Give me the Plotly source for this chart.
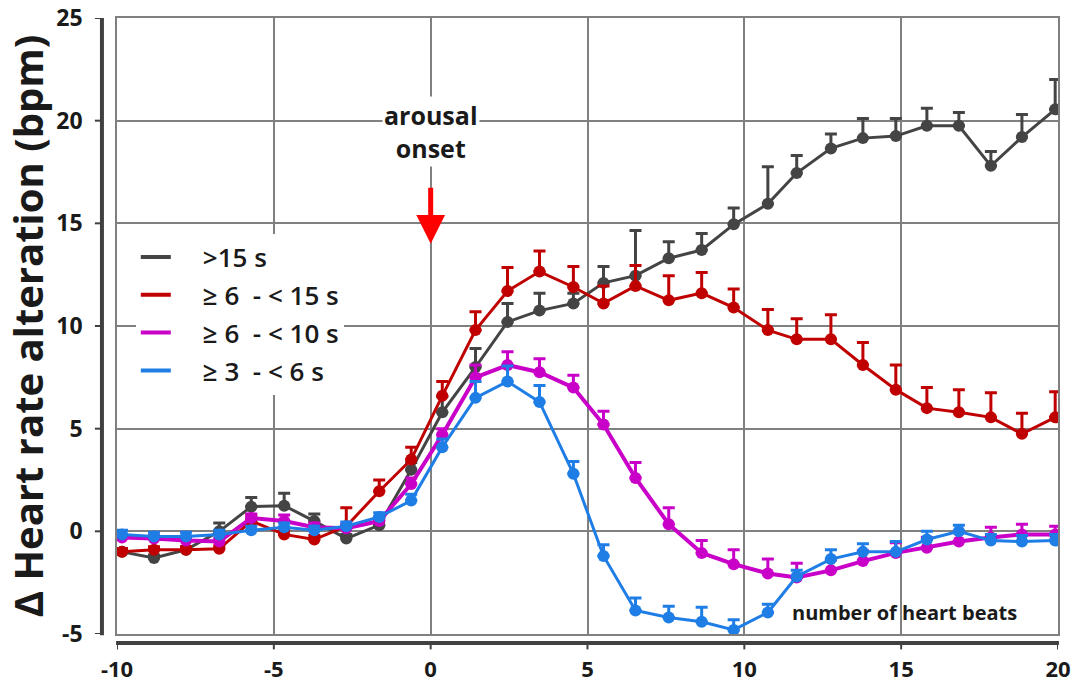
import plotly.graph_objects as go

# positions of the 30 beats as read on the x axis
beat_pos = [-9.84, -8.82, -7.80, -6.74, -5.72, -4.67, -3.71, -2.69, -1.64, -0.62,
            0.37, 1.43, 2.45, 3.47, 4.55, 5.51, 6.53, 7.59, 8.64, 9.66,
            10.75, 11.67, 12.76, 13.78, 14.83, 15.82, 16.84, 17.86, 18.85, 19.91]

gt15 = [-1.0, -1.3, -0.9, 0.0, 1.2, 1.25, 0.5, -0.35, 0.3, 3.0,
        5.8, 8.0, 10.2, 10.75, 11.1, 12.1, 12.45, 13.3, 13.7, 14.95,
        15.95, 17.45, 18.65, 19.15, 19.25, 19.75, 19.75, 17.8, 19.2, 20.55]
gt15_err = [0.15, 0.15, 0.15, 0.4, 0.45, 0.6, 0.35, 0.2, 0.3, 0.35,
            0.75, 0.9, 0.9, 0.85, 0.5, 0.8, 2.2, 0.8, 0.8, 0.8,
            1.8, 0.85, 0.7, 0.95, 0.85, 0.85, 0.65, 0.7, 1.1, 1.45]

r6_15 = [-1.0, -0.9, -0.9, -0.85, 0.5, -0.15, -0.4, 0.25, 1.95, 3.5,
         6.6, 9.8, 11.7, 12.65, 11.9, 11.1, 11.95, 11.25, 11.6, 10.9,
         9.8, 9.35, 9.35, 8.1, 6.9, 6.0, 5.8, 5.55, 4.75, 5.55]
r6_15_err = [0.15, 0.15, 0.15, 0.15, 0.3, 0.2, 0.2, 0.9, 0.55, 0.6,
             0.7, 0.9, 1.15, 1.0, 1.0, 0.85, 1.0, 1.2, 1.0, 0.9,
             1.0, 1.0, 1.2, 1.1, 1.2, 1.0, 1.1, 1.2, 1.0, 1.25]

r6_10 = [-0.3, -0.35, -0.45, -0.5, 0.65, 0.5, 0.2, 0.15, 0.5, 2.3,
         4.7, 7.5, 8.1, 7.75, 7.0, 5.2, 2.6, 0.35, -1.05, -1.6,
         -2.05, -2.25, -1.9, -1.45, -1.05, -0.8, -0.5, -0.3, -0.15, -0.15]
r6_10_err = [0.15, 0.15, 0.15, 0.15, 0.2, 0.3, 0.2, 0.2, 0.2, 0.3,
             0.3, 0.6, 0.65, 0.65, 0.6, 0.65, 0.75, 0.8, 0.6, 0.7,
             0.7, 0.7, 0.5, 0.5, 0.5, 0.5, 0.5, 0.5, 0.5, 0.4]

r3_6 = [-0.15, -0.25, -0.25, -0.15, 0.05, 0.2, 0.05, 0.25, 0.7, 1.5,
        4.1, 6.5, 7.3, 6.3, 2.8, -1.2, -3.85, -4.2, -4.4, -4.8,
        -3.95, -2.2, -1.35, -1.0, -1.0, -0.4, 0.0, -0.45, -0.5, -0.45]
r3_6_err = [0.2, 0.2, 0.2, 0.2, 0.2, 0.2, 0.2, 0.2, 0.2, 0.3,
            0.4, 0.8, 0.75, 0.8, 0.6, 0.55, 0.6, 0.55, 0.7, 0.5,
            0.4, 0.3, 0.45, 0.4, 0.5, 0.4, 0.3, 0.3, 0.3, 0.3]

series_names = [">15 s", "\u2265 6  - < 15 s", "\u2265 6  - < 10 s", "\u2265 3  - < 6 s"]
series_vals = [gt15, r6_15, r6_10, r3_6]
series_errs = [gt15_err, r6_15_err, r6_10_err, r3_6_err]
colors = ["#444444", "#c00000", "#c800c8", "#1f7de6"]
widths = [3, 3, 4, 3]

x_ticks = [-10, -5, 0, 5, 10, 15, 20]
y_ticks = [-5, 0, 5, 10, 15, 20, 25]

FONT = "Open Sans"
TXT = "#1a1a1a"
fig = go.Figure()

for name, vals, errs, col, w in zip(series_names, series_vals, series_errs, colors, widths):
    fig.add_trace(go.Scatter(
        x=beat_pos, y=vals, mode="lines+markers", name=name, showlegend=False,
        line=dict(color=col, width=w),
        marker=dict(color=col, size=12),
        error_y=dict(type="data", array=errs, arrayminus=[0] * len(errs),
                     symmetric=False, color=col, thickness=3, width=6),
    ))

for i, (name, col) in enumerate(zip(series_names, colors)):
    fig.add_trace(go.Scatter(
        x=[None], y=[None], mode="lines", name="\u00a0\u00a0\u00a0\u00a0" + name,
        line=dict(color=col, width=4), legendgroup=f"g{i}", showlegend=True,
    ))

shapes = []
axis_col = "#404040"
# outer y axis line and ticks
shapes.append(dict(type="line", xref="paper", yref="paper", x0=-0.016, x1=-0.016,
                   y0=-0.002, y1=1.0, line=dict(color=axis_col, width=4)))
for t in y_ticks:
    shapes.append(dict(type="line", xref="paper", yref="y", x0=-0.0235, x1=-0.016,
                       y0=t, y1=t, line=dict(color=axis_col, width=2)))
# outer x axis line and ticks
shapes.append(dict(type="line", xref="paper", yref="paper", x0=-0.001, x1=1.001,
                   y0=-0.0146, y1=-0.0146, line=dict(color=axis_col, width=4)))
for t in x_ticks:
    shapes.append(dict(type="line", xref="x", yref="paper", x0=t, x1=t,
                       y0=-0.0146, y1=-0.025, line=dict(color=axis_col, width=2)))

annotations = [
    dict(x=0, y=14.0, ax=0, ay=16.8, xref="x", yref="y", axref="x", ayref="y",
         text="", showarrow=True, arrowhead=2, arrowsize=1.15, arrowwidth=5,
         arrowcolor="#ff0000"),
    dict(x=0, y=19.45, xref="x", yref="y", text="<b>arousal<br>onset</b>",
         showarrow=False, font=dict(family=FONT, size=25, color=TXT),
         bgcolor="white", borderpad=1, align="center"),
    dict(x=15.1, y=-3.95, xref="x", yref="y", text="<b>number of heart beats</b>",
         showarrow=False, font=dict(family=FONT, size=20, color=TXT)),
]

fig.update_layout(
    width=1078, height=686,
    margin=dict(l=117, r=20, t=18, b=52),
    plot_bgcolor="white", paper_bgcolor="white",
    font=dict(family=FONT, color=TXT),
    shapes=shapes, annotations=annotations,
    legend=dict(x=0.02, y=0.65, xanchor="left", yanchor="top",
                bgcolor="white", borderwidth=0, tracegroupgap=1,
                font=dict(family=FONT, size=26, color=TXT, weight=600),
                itemwidth=30),
    xaxis=dict(range=[-10, 20], tickvals=x_ticks, ticktext=[str(t) for t in x_ticks],
               ticks="", showgrid=True, automargin=False,
               gridcolor="#808080", gridwidth=1.5, showline=True, mirror=True,
               linecolor="#808080", linewidth=1.5, zeroline=False,
               tickfont=dict(family=FONT, size=22, color=TXT, weight="bold"),
               ticklabelstandoff=15),
    yaxis=dict(range=[-5, 25], tickvals=y_ticks, ticktext=[str(t) for t in y_ticks],
               ticks="", showgrid=True, automargin=False,
               gridcolor="#808080", gridwidth=1.5, showline=True, mirror=True,
               linecolor="#808080", linewidth=1.5, zeroline=False,
               tickfont=dict(family=FONT, size=23, color=TXT, weight="bold"),
               ticklabelstandoff=28,
               title=dict(text="\u0394 Heart rate alteration (bpm)", standoff=8,
                          font=dict(family=FONT, size=40, color=TXT, weight="bold"))),
)

fig.write_html("out.html", config={"displayModeBar": False},
               post_script="document.body.style.margin='0';document.body.style.overflow='hidden';")
